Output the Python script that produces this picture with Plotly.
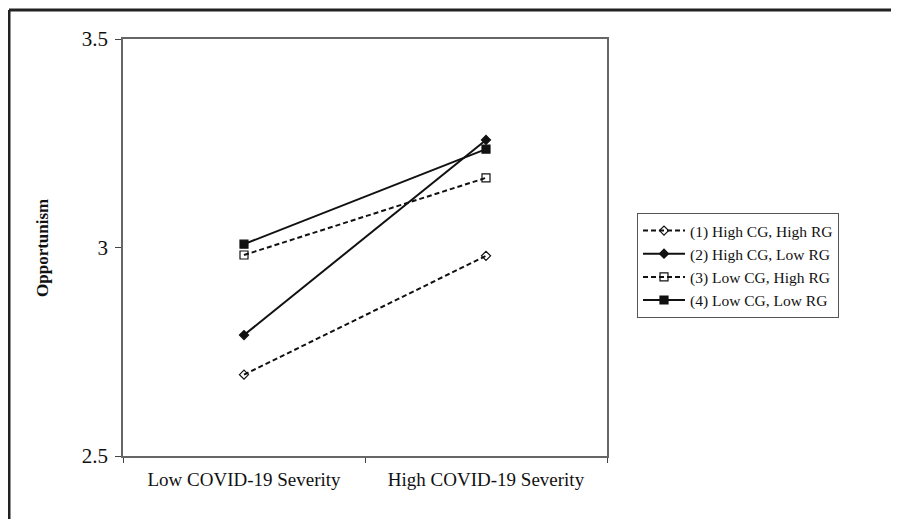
import plotly.graph_objects as go

categories = ["Low COVID-19 Severity", "High COVID-19 Severity"]
series_names = ["(1) High CG, High RG", "(2) High CG, Low RG",
                "(3) Low CG, High RG", "(4) Low CG, Low RG"]
s1 = [2.695, 2.98]
s2 = [2.79, 3.258]
s3 = [2.982, 3.167]
s4 = [3.008, 3.236]
y_ticks = [2.5, 3, 3.5]
y_tick_labels = ["2.5", "3", "3.5"]

FONT = "Liberation Serif, Times New Roman, serif"
styles = [
    dict(dash="5px,3px", symbol="diamond-open", size=7),
    dict(dash="solid", symbol="diamond", size=7),
    dict(dash="5px,3px", symbol="square-open", size=8),
    dict(dash="solid", symbol="square", size=8),
]

fig = go.Figure()
for name, vals, st in zip(series_names, [s1, s2, s3, s4], styles):
    fig.add_trace(go.Scatter(
        x=categories, y=vals, name=name, mode="lines+markers",
        line=dict(color="#111111", width=2, dash=st["dash"]),
        marker=dict(symbol=st["symbol"], size=st["size"], color="#111111",
                    line=dict(color="#111111", width=1.2)),
    ))

# page has an 8px body margin; work in screen pixels then offset
OFF = 8
W, H = 899 - OFF, 519 - OFF
L, R, T, B = 123 - OFF, 607 - OFF, 39 - OFF, 456 - OFF
pw, ph = R - L, B - T
def px(x):
    return (x - OFF - L) / pw
def py(y):
    return (B - (y - OFF)) / ph

fig.update_layout(
    width=W, height=H,
    margin=dict(l=L, r=W - R, t=T, b=H - B, pad=0),
    paper_bgcolor="white", plot_bgcolor="white",
    font=dict(family=FONT, color="#111111", size=19),
    showlegend=True,
    legend=dict(
        x=px(637), y=py(213), xanchor="left", yanchor="top",
        bordercolor="#555555", borderwidth=1, bgcolor="white",
        font=dict(family=FONT, size=15.5, color="#111111"),
        itemwidth=42, tracegroupgap=0,
    ),
    xaxis=dict(
        type="category", range=[-0.5, 1.5],
        showline=True, linecolor="#666666", linewidth=1.5, mirror=True,
        ticks="outside", tickson="boundaries", ticklen=5, tickcolor="#444444",
        ticklabelstandoff=5,
        showgrid=False, zeroline=False,
        tickfont=dict(family=FONT, size=19, color="#111111"),
    ),
    yaxis=dict(
        range=[2.5, 3.5], tickvals=y_ticks, ticktext=y_tick_labels,
        showline=True, linecolor="#666666", linewidth=1.5, mirror=True,
        ticks="outside", ticklen=6, tickcolor="#444444",
        ticklabelstandoff=3,
        showgrid=False, zeroline=False,
        tickfont=dict(family=FONT, size=21, color="#111111"),
    ),
    annotations=[
        dict(text="<b>Opportunism</b>", xref="paper", yref="paper",
             x=px(42), y=py(248), xanchor="center", yanchor="middle",
             textangle=-90, showarrow=False,
             font=dict(family=FONT, size=17, color="#111111")),
    ],
    shapes=[
        dict(type="line", xref="paper", yref="paper",
             x0=px(9), x1=px(905), y0=py(10), y1=py(10),
             line=dict(color="#222222", width=3)),
        dict(type="line", xref="paper", yref="paper",
             x0=px(9), x1=px(9), y0=py(10), y1=py(525),
             line=dict(color="#222222", width=3)),
    ],
)

fig.write_html("out.html")
